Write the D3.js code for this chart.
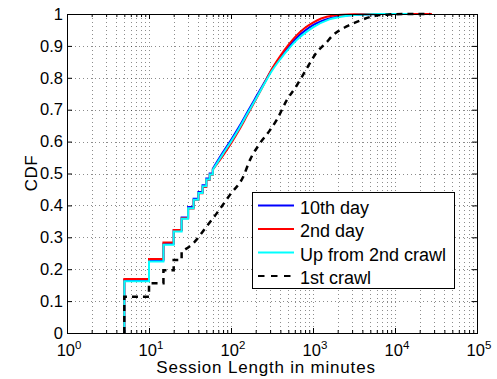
<!DOCTYPE html>
<html>
<head>
<meta charset="utf-8">
<script src="https://cdn.jsdelivr.net/npm/d3@7"></script>
<style>
  html, body { margin: 0; padding: 0; background: #fff; overflow: hidden; }
  svg { display: block; font-family: "Liberation Sans", Arial, sans-serif; }
</style>
</head>
<body>
<div id="chart"></div>
<script>
// step part: session lengths sampled every 5 minutes
const stepMinutes = [5, 10, 15, 20, 25, 30, 35, 40, 45, 50, 55, 60];
const day10Step = [0.166, 0.228, 0.280, 0.322, 0.362, 0.395, 0.421, 0.442, 0.463, 0.484, 0.500, 0.515];
const day2Step = [0.169, 0.232, 0.284, 0.323, 0.360, 0.390, 0.417, 0.438, 0.458, 0.480, 0.496, 0.512];
const upStep = [0.162, 0.224, 0.277, 0.318, 0.358, 0.391, 0.418, 0.439, 0.460, 0.481, 0.497, 0.512];

// smooth part after 60 minutes
const day10Minutes = [60, 79, 100, 126, 158, 200, 251, 316, 398, 501, 631, 794, 1000, 1585, 2512, 6310, 15850];
const day10Cdf = [0.515, 0.565, 0.605, 0.647, 0.692, 0.738, 0.782, 0.826, 0.863, 0.896, 0.925, 0.947, 0.965, 0.986, 0.995, 1.0, 1.0];
const day2Minutes = [60, 79, 100, 126, 158, 200, 251, 316, 398, 501, 631, 794, 1000, 1259, 1778, 3162, 6310, 28180];
const day2Cdf = [0.512, 0.554, 0.594, 0.637, 0.683, 0.731, 0.779, 0.828, 0.868, 0.903, 0.933, 0.956, 0.973, 0.986, 0.995, 0.999, 1.0, 1.0];
const upMinutes = [60, 79, 100, 126, 158, 200, 251, 316, 398, 501, 631, 794, 1000, 1585, 2512, 3981, 6310, 16500];
const upCdf = [0.512, 0.560, 0.600, 0.642, 0.687, 0.733, 0.778, 0.822, 0.858, 0.890, 0.918, 0.940, 0.958, 0.983, 0.994, 0.998, 1.0, 1.0];

// 1st crawl
const crawl1StepMinutes = [5, 10, 15, 20, 25];
const crawl1Step = [0.114, 0.156, 0.197, 0.229, 0.255];
const crawl1Minutes = [25, 36, 50, 67, 97, 141, 170, 226, 299, 361, 479, 631, 759, 912, 1109, 1400, 1778, 2570, 3715, 5200, 7943, 13800, 26900];
const crawl1Cdf = [0.255, 0.286, 0.333, 0.375, 0.433, 0.490, 0.542, 0.595, 0.636, 0.668, 0.730, 0.775, 0.810, 0.845, 0.880, 0.906, 0.935, 0.961, 0.979, 0.992, 0.998, 1.0, 1.0];

const yTicks = [0, 0.1, 0.2, 0.3, 0.4, 0.5, 0.6, 0.7, 0.8, 0.9, 1];
const xDecades = [0, 1, 2, 3, 4, 5];

const series = [
  { name: "10th day", color: "#0000ff", dash: null, stepX: stepMinutes, stepY: day10Step, x: day10Minutes, y: day10Cdf },
  { name: "2nd day", color: "#ff0000", dash: null, stepX: stepMinutes, stepY: day2Step, x: day2Minutes, y: day2Cdf },
  { name: "Up from 2nd crawl", color: "#00ffff", dash: null, stepX: stepMinutes, stepY: upStep, x: upMinutes, y: upCdf },
  { name: "1st crawl", color: "#000000", dash: "6,5", stepX: crawl1StepMinutes, stepY: crawl1Step, x: crawl1Minutes, y: crawl1Cdf }
];

const width = 497, height = 379;
const margins = { top: 14, right: 20, bottom: 46, left: 67 };
const innerWidth = width - margins.left - margins.right;
const innerHeight = height - margins.top - margins.bottom;

const svg = d3.select("#chart").append("svg")
  .attr("width", width).attr("height", height);
const mainG = svg.append("g")
  .attr("transform", `translate(${margins.left},${margins.top})`);

const xScale = d3.scaleLog().domain([1, 1e5]).range([0, innerWidth]);
const yScale = d3.scaleLinear().domain([0, 1]).range([innerHeight, 0]);

// all log ticks 1..9 per decade
const xMinor = [];
xDecades.slice(0, -1).forEach((k) => {
  for (let m = 1; m <= 9; m++) xMinor.push(m * Math.pow(10, k));
});
xMinor.push(1e5);

// Grid (dotted)
const gridG = mainG.append("g").attr("class", "grid");
gridG.selectAll("line.gx")
  .data(xMinor.filter((v) => v > 1 && v < 1e5))
  .join("line").attr("class", "gx")
  .attr("x1", (d) => Math.round(xScale(d)) + 0.5).attr("x2", (d) => Math.round(xScale(d)) + 0.5)
  .attr("y1", 0).attr("y2", innerHeight)
  .attr("stroke", "#000").attr("stroke-opacity", 0.45).attr("stroke-dasharray", "1,3");
gridG.selectAll("line.gy")
  .data(yTicks.filter((v) => v > 0 && v < 1))
  .join("line").attr("class", "gy")
  .attr("x1", 0).attr("x2", innerWidth)
  .attr("y1", (d) => Math.round(yScale(d)) + 0.5).attr("y2", (d) => Math.round(yScale(d)) + 0.5)
  .attr("stroke", "#000").attr("stroke-opacity", 0.45).attr("stroke-dasharray", "1,3");

// Curves: step part then smooth part in one path
const stepLine = d3.line()
  .x((d) => xScale(d[0])).y((d) => yScale(d[1]))
  .curve(d3.curveStepAfter);
const smoothLine = d3.line()
  .x((d) => xScale(d[0])).y((d) => yScale(d[1]))
  .curve(d3.curveMonotoneX);

const curvesG = mainG.append("g").attr("class", "curves");
series.forEach((s) => {
  const stepPts = [[s.stepX[0], 0]].concat(s.stepX.map((x, i) => [x, s.stepY[i]]));
  const smoothPts = s.x.map((x, i) => [x, s.y[i]]);
  const d = stepLine(stepPts) + smoothLine(smoothPts).replace(/^M/, "L");
  curvesG.append("path")
    .attr("d", d)
    .attr("fill", "none")
    .attr("stroke", s.color)
    .attr("stroke-width", s.dash ? 2.5 : 2)
    .attr("stroke-dasharray", s.dash);
});

// Box
mainG.append("rect")
  .attr("x", 0.5).attr("y", 0.5)
  .attr("width", innerWidth).attr("height", innerHeight)
  .attr("fill", "none").attr("stroke", "#000").attr("stroke-width", 1);

// Axes with inward ticks
const xAxisG = mainG.append("g")
  .attr("transform", `translate(0,${innerHeight})`)
  .call(d3.axisBottom(xScale).tickValues(xMinor).tickSize(0));
const xTopG = mainG.append("g")
  .call(d3.axisTop(xScale).tickValues(xMinor).tickSize(0));
[xAxisG, xTopG].forEach((g, i) => {
  g.select(".domain").remove();
  g.selectAll(".tick text").remove();
  g.selectAll(".tick line")
    .attr("y2", (d) => (i === 0 ? -1 : 1) * (Number.isInteger(Math.log10(d)) ? 5 : 3))
    .attr("stroke", "#000");
});

const yAxisG = mainG.append("g")
  .call(d3.axisLeft(yScale).tickValues(yTicks).tickSize(-5).tickPadding(4).tickFormat(d3.format("~g")));
const yRightG = mainG.append("g")
  .attr("transform", `translate(${innerWidth},0)`)
  .call(d3.axisRight(yScale).tickValues(yTicks).tickSize(-5));
[yAxisG, yRightG].forEach((g) => g.select(".domain").remove());
yRightG.selectAll(".tick text").remove();
yAxisG.selectAll("text").attr("font-size", "16.5px").attr("fill", "#000")
  .attr("font-family", "Liberation Sans, Arial, sans-serif");

// x tick labels 10^k
const xLabG = mainG.append("g").attr("class", "x-labels");
xDecades.forEach((k) => {
  const t = xLabG.append("text")
    .attr("x", xScale(Math.pow(10, k)) + 2)
    .attr("y", innerHeight + 23)
    .attr("text-anchor", "middle")
    .attr("font-size", "16.5px")
    .text("10");
  t.append("tspan").attr("dy", -7).attr("font-size", "11.5px").text(k);
});

// Axis labels
mainG.append("text")
  .attr("x", innerWidth / 2 - 6)
  .attr("y", innerHeight + 40)
  .attr("text-anchor", "middle")
  .attr("font-size", "17px")
  .attr("letter-spacing", "0.8px")
  .text("Session Length in minutes");
mainG.append("text")
  .attr("transform", "rotate(-90)")
  .attr("x", -(173 - margins.top))
  .attr("y", 37 - margins.left)
  .attr("text-anchor", "middle")
  .attr("font-size", "17px")
  .attr("letter-spacing", "0.5px")
  .text("CDF");

// Legend
const legendG = svg.append("g").attr("transform", "translate(252,192)");
legendG.append("rect")
  .attr("x", 0.5).attr("y", 0.5).attr("width", 202).attr("height", 96)
  .attr("fill", "#fff").attr("stroke", "#000").attr("stroke-width", 1);
series.forEach((s, i) => {
  const cy = 13.5 + i * 23.5;
  legendG.append("line")
    .attr("x1", 6).attr("x2", 42).attr("y1", cy).attr("y2", cy)
    .attr("stroke", s.color).attr("stroke-width", 2)
    .attr("stroke-dasharray", s.dash ? "6.5,6.5" : null);
  legendG.append("text")
    .attr("x", 48).attr("y", cy + 8.3)
    .attr("font-size", "18px")
    .text(s.name);
});
</script>
</body>
</html>
